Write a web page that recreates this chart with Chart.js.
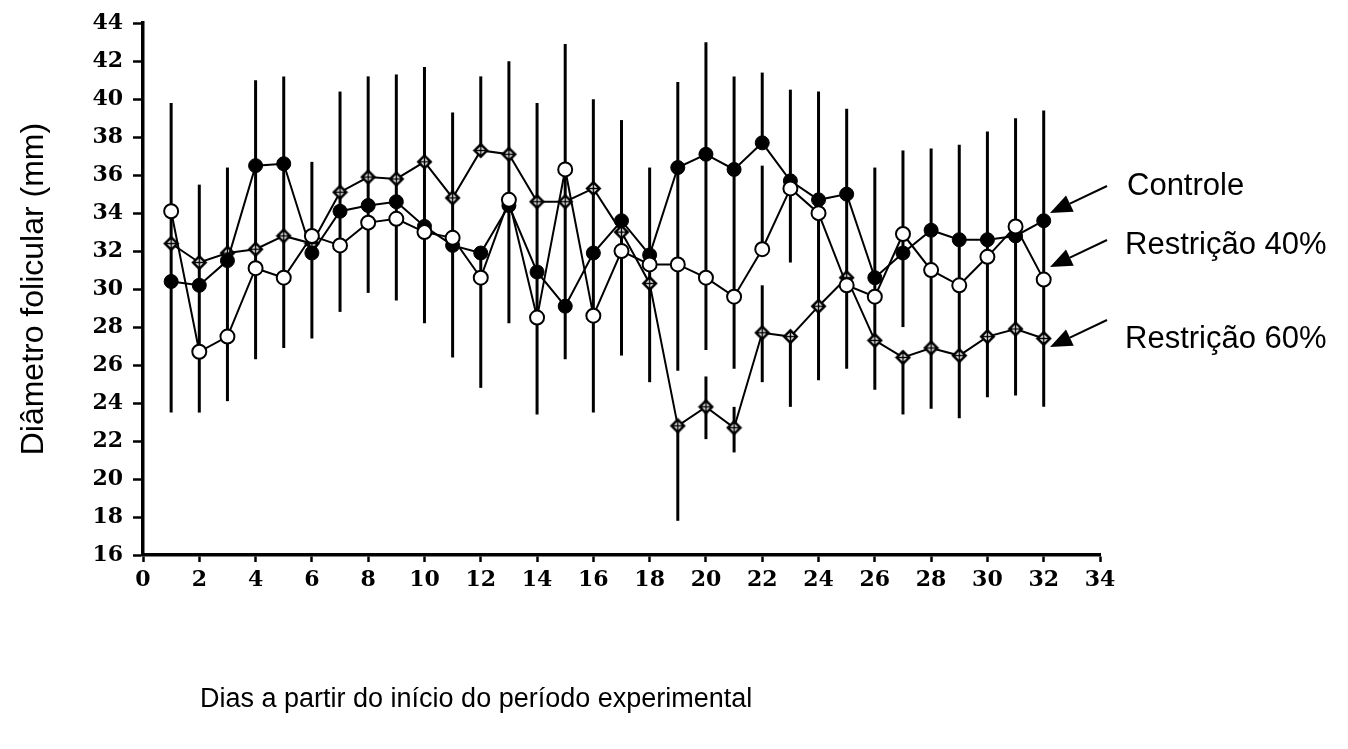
<!DOCTYPE html>
<html>
<head>
<meta charset="utf-8">
<script src="https://cdn.jsdelivr.net/npm/chart.js@4.4.1/dist/chart.umd.min.js"></script>
<style>
  html, body { margin: 0; padding: 0; background: #fff; }
</style>
</head>
<body>
<canvas id="myChart" width="1348" height="749"></canvas>
<script>
// Dados
const days = [1, 2, 3, 4, 5, 6, 7, 8, 9, 10, 11, 12, 13, 14, 15, 16,
              17, 18, 19, 20, 21, 22, 23, 24, 25, 26, 27, 28, 29, 30, 31, 32];

const controle = [30.4, 30.2, 31.5, 36.5, 36.6, 31.9, 34.1, 34.4, 34.6, 33.3, 32.3, 31.9, 34.4, 30.9, 29.1, 31.9,
                  33.6, 31.8, 36.4, 37.1, 36.3, 37.7, 35.7, 34.7, 35.0, 30.6, 31.9, 33.1, 32.6, 32.6, 32.8, 33.6];

const restricao40 = [34.1, 26.7, 27.5, 31.1, 30.6, 32.8, 32.3, 33.5, 33.7, 33.0, 32.7, 30.6, 34.7, 28.5, 36.3, 28.6,
                     32.0, 31.3, 31.3, 30.6, 29.6, 32.1, 35.3, 34.0, 30.2, 29.6, 32.9, 31.0, 30.2, 31.7, 33.3, 30.5];

const restricao60 = [32.4, 31.4, 31.9, 32.1, 32.8, 32.4, 35.1, 35.9, 35.8, 36.7, 34.8, 37.3, 37.1, 34.6, 34.6, 35.3,
                     33.0, 30.3, 22.8, 23.8, 22.7, 27.7, 27.5, 29.1, 30.6, 27.3, 26.4, 26.9, 26.5, 27.5, 27.9, 27.4];

// barras de erro visíveis: [dia, mínimo, máximo]
const errorBars = [
  [1, 23.5, 39.8], [2, 23.5, 35.5], [3, 24.1, 36.4], [4, 26.3, 41.0], [5, 26.9, 41.2],
  [6, 27.4, 36.7], [7, 28.8, 40.4], [8, 29.8, 41.2], [9, 29.4, 41.3], [10, 28.2, 41.7],
  [11, 26.4, 39.3], [12, 37.3, 41.2], [12, 24.8, 31.9], [13, 28.2, 42.0], [14, 23.4, 39.8],
  [15, 26.3, 42.9], [16, 23.5, 40.0], [17, 26.5, 38.9], [18, 25.1, 36.4],
  [19, 25.7, 40.9], [19, 17.8, 22.8], [20, 26.8, 43.0], [20, 22.1, 25.4],
  [21, 25.8, 41.2], [21, 21.4, 23.8], [22, 37.7, 41.4], [22, 32.1, 36.5], [22, 25.1, 30.2],
  [23, 31.4, 40.5], [23, 23.8, 27.5], [24, 25.2, 40.4], [25, 25.8, 39.5], [26, 24.7, 36.4],
  [27, 28.0, 37.3], [27, 23.4, 26.4], [28, 23.7, 37.4], [29, 23.2, 37.6], [30, 24.3, 38.3],
  [31, 24.4, 39.0], [32, 23.8, 39.4]
];

const seriesNames = ['Controle', 'Restrição 40%', 'Restrição 60%'];
const xTitle = 'Dias a partir do início do período experimental';
const yTitle = 'Diâmetro folicular (mm)';

function toPoints(values) {
  return days.map((d, i) => ({ x: d, y: values[i] }));
}

// losango com cruz (marcador da Restrição 60%)
function makeDiamond() {
  const c = document.createElement('canvas');
  c.width = 17; c.height = 17;
  const g = c.getContext('2d');
  g.translate(8.5, 8.5);
  g.beginPath(); g.moveTo(0, -8); g.lineTo(8, 0); g.lineTo(0, 8); g.lineTo(-8, 0); g.closePath();
  g.fillStyle = '#000'; g.fill();
  g.beginPath(); g.moveTo(0, -4.5); g.lineTo(4.5, 0); g.lineTo(0, 4.5); g.lineTo(-4.5, 0); g.closePath();
  g.fillStyle = '#fff'; g.fill();
  g.strokeStyle = '#000'; g.lineWidth = 1.5;
  g.beginPath(); g.moveTo(0, -4.5); g.lineTo(0, 4.5); g.moveTo(-4.5, 0); g.lineTo(4.5, 0); g.stroke();
  return c;
}

const errorBarPlugin = {
  id: 'errorBars',
  beforeDatasetsDraw(chart) {
    const { ctx, scales: { x, y } } = chart;
    ctx.save();
    ctx.strokeStyle = '#000';
    ctx.lineWidth = 3;
    errorBars.forEach(([d, lo, hi]) => {
      const px = x.getPixelForValue(d);
      ctx.beginPath();
      ctx.moveTo(px, y.getPixelForValue(lo));
      ctx.lineTo(px, y.getPixelForValue(hi));
      ctx.stroke();
    });
    ctx.restore();
  }
};

// legenda com setas + título do eixo x
const labelsPlugin = {
  id: 'arrowLabels',
  afterDraw(chart) {
    const { ctx, chartArea } = chart;
    const r = chartArea.right;
    ctx.save();
    ctx.fillStyle = '#000';
    ctx.strokeStyle = '#000';
    ctx.font = '31px "Liberation Sans", Arial, sans-serif';
    ctx.textBaseline = 'alphabetic';
    const rows = [
      { text: seriesNames[0], tx: r + 27, ty: 195, tail: [r + 7, 186], tip: [r - 50, 213] },
      { text: seriesNames[1], tx: r + 25, ty: 254, tail: [r + 7, 240], tip: [r - 50, 267] },
      { text: seriesNames[2], tx: r + 25, ty: 348, tail: [r + 7, 320], tip: [r - 50, 347] }
    ];
    rows.forEach(row => {
      ctx.fillText(row.text, row.tx, row.ty);
      const [x1, y1] = row.tail, [x2, y2] = row.tip;
      const ang = Math.atan2(y2 - y1, x2 - x1);
      const hl = 22, hw = 9;
      const bx = x2 - hl * Math.cos(ang), by = y2 - hl * Math.sin(ang);
      ctx.lineWidth = 2;
      ctx.beginPath(); ctx.moveTo(x1, y1); ctx.lineTo(bx, by); ctx.stroke();
      ctx.beginPath();
      ctx.moveTo(x2, y2);
      ctx.lineTo(bx + hw * Math.sin(ang), by - hw * Math.cos(ang));
      ctx.lineTo(bx - hw * Math.sin(ang), by + hw * Math.cos(ang));
      ctx.closePath(); ctx.fill();
    });
    ctx.font = '27px "Liberation Sans", Arial, sans-serif';
    ctx.textAlign = 'left';
    ctx.textBaseline = 'middle';
    ctx.fillText(xTitle, chartArea.left + 57, 700);
    ctx.restore();
  }
};

const tickFont = { family: '"DejaVu Serif", "Liberation Serif", serif', weight: 'bold', size: 22 };

const ctx = document.getElementById('myChart').getContext('2d');
const myChart = new Chart(ctx, {
  type: 'line',
  data: {
    datasets: [
      {
        label: seriesNames[1],
        data: toPoints(restricao40),
        borderColor: '#000', borderWidth: 2,
        pointStyle: 'circle', pointRadius: 7,
        pointBackgroundColor: '#fff', pointBorderColor: '#000', pointBorderWidth: 2
      },
      {
        label: seriesNames[0],
        data: toPoints(controle),
        borderColor: '#000', borderWidth: 2,
        pointStyle: 'circle', pointRadius: 7,
        pointBackgroundColor: '#000', pointBorderColor: '#000', pointBorderWidth: 1
      },
      {
        label: seriesNames[2],
        data: toPoints(restricao60),
        borderColor: '#000', borderWidth: 2,
        pointStyle: makeDiamond(), pointRadius: 8
      }
    ]
  },
  options: {
    responsive: false,
    animation: false,
    devicePixelRatio: 1,
    layout: { padding: { left: 0, top: 22, right: 248, bottom: 0 } },
    plugins: { legend: { display: false }, tooltip: { enabled: false } },
    elements: { line: { tension: 0 } },
    scales: {
      x: {
        type: 'linear', min: 0, max: 34,
        ticks: { stepSize: 2, font: tickFont, color: '#000', padding: 5, maxRotation: 0, autoSkip: false },
        grid: { drawOnChartArea: false, tickLength: 7, tickWidth: 2.5, color: '#000' },
        border: { color: '#000', width: 3.5 },
        afterFit: s => { s.height = 194; }
      },
      y: {
        type: 'linear', min: 16, max: 44,
        ticks: { stepSize: 2, font: tickFont, color: '#000', padding: 10, autoSkip: false },
        grid: { drawOnChartArea: false, tickLength: 10, tickWidth: 2.5, color: '#000' },
        border: { color: '#000', width: 3.5 },
        title: {
          display: true, text: yTitle, color: '#000',
          font: { family: '"Liberation Sans", Arial, sans-serif', size: 32 },
          padding: { top: 15, bottom: 0 }
        },
        afterFit: s => { s.width = 143; }
      }
    }
  },
  plugins: [errorBarPlugin, labelsPlugin]
});
</script>
</body>
</html>
